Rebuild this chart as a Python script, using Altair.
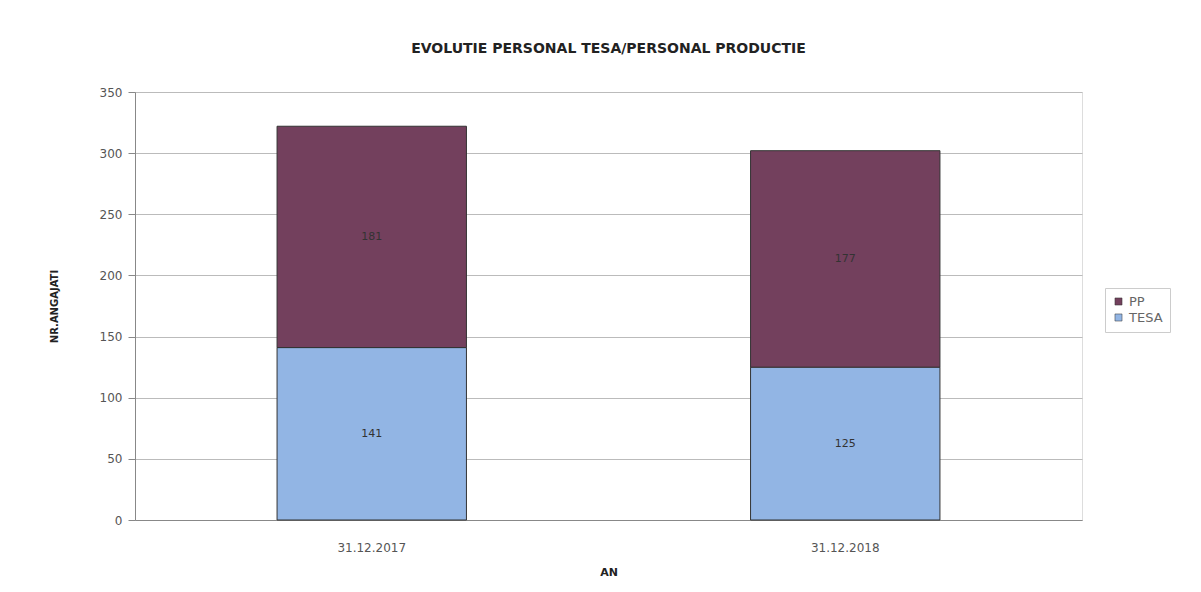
import altair as alt
import pandas as pd

years = ["31.12.2017", "31.12.2018"]
tesa = [141, 125]
pp = [181, 177]
series = ["PP", "TESA"]
colors = ["#73405d", "#92b5e4"]

rows = []
for i, yr in enumerate(years):
    rows.append({"an": yr, "cat": "TESA", "val": tesa[i], "ord": 0})
    rows.append({"an": yr, "cat": "PP", "val": pp[i], "ord": 1})
df = pd.DataFrame(rows)

base = alt.Chart(df)

bars = base.mark_bar(stroke="#333333", strokeWidth=1).encode(
    x=alt.X("an:N", title="AN", sort=years,
            scale=alt.Scale(paddingInner=0.6, paddingOuter=0.3),
            axis=alt.Axis(labelAngle=0, labelColor="#555555", labelFontSize=12,
                          labelFont="DejaVu Sans", titleFont="DejaVu Sans",
                          titleFontSize=11, titleFontWeight="bold", titleColor="#222222",
                          titlePadding=13, labelPadding=22, ticks=False,
                          domainColor="#888888")),
    y=alt.Y("val:Q", stack="zero", title="NR.ANGAJATI",
            scale=alt.Scale(domain=[0, 350]),
            axis=alt.Axis(values=[0, 50, 100, 150, 200, 250, 300, 350],
                          labelColor="#555555", labelFontSize=12, labelFont="DejaVu Sans",
                          titleFont="DejaVu Sans", titleFontSize=10, titleFontWeight="bold",
                          titleColor="#222222", titlePadding=40, tickSize=7,
                          tickColor="#888888", domainColor="#888888",
                          gridColor="#bbbbbb", labelPadding=6)),
    color=alt.Color("cat:N", scale=alt.Scale(domain=series, range=colors),
                    legend=alt.Legend(title=None, orient="none", legendX=970, legendY=196,
                                      strokeColor="#cccccc", padding=7,
                                      symbolType="square", symbolSize=50,
                                      symbolStrokeColor="#333333", symbolStrokeWidth=0.5,
                                      labelFont="DejaVu Sans", labelFontSize=13,
                                      labelColor="#666666")),
    order=alt.Order("ord:Q"),
)

labels = base.transform_stack(
    stack="val", groupby=["an"], as_=["y0", "y1"], sort=[alt.SortField("ord")]
).transform_calculate(
    mid="(datum.y0 + datum.y1) / 2"
).mark_text(font="DejaVu Sans", fontSize=11, color="#333333").encode(
    x=alt.X("an:N", sort=years),
    y=alt.Y("mid:Q"),
    text=alt.Text("val:Q"),
)

chart = (bars + labels).properties(
    width=947, height=428,
    title=alt.TitleParams("EVOLUTIE PERSONAL TESA/PERSONAL PRODUCTIE",
                          font="DejaVu Sans", fontSize=14, fontWeight="bold",
                          color="#222222", offset=30, anchor="middle"),
    autosize=alt.AutoSizeParams(type="none"),
    padding={"left": 127, "top": 84, "right": 110, "bottom": 64},
).configure_view(stroke="#999999").configure(background="white")

chart.save("out.html", embed_options={"renderer": "svg", "actions": False})
